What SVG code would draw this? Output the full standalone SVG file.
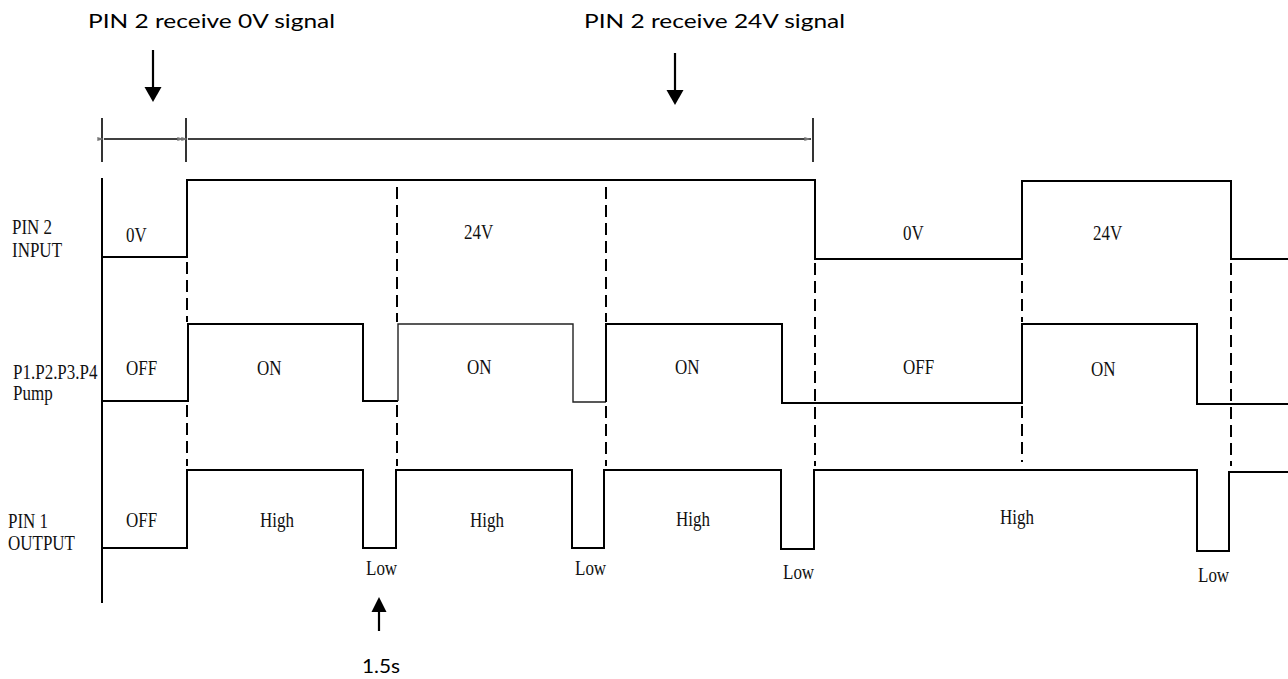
<svg xmlns="http://www.w3.org/2000/svg" width="1288" height="679" viewBox="0 0 1288 679">
<style>
.sig{fill:none;stroke:#000;stroke-width:2;stroke-linejoin:miter}
.thin{fill:none;stroke:#222;stroke-width:1.4}
.dash{fill:none;stroke:#000;stroke-width:2;stroke-dasharray:12 6}
.lbl{font-family:"Liberation Serif","Times New Roman",serif;font-size:17px;fill:#111}
.cap{font-family:"Lato","Open Sans",sans-serif;font-size:20px;fill:#000}
.dim{stroke:#000;stroke-width:1.6;fill:none}
</style>
<defs>
<marker id="tiny" viewBox="0 0 10 6" refX="10" refY="3" markerWidth="7" markerHeight="4" markerUnits="userSpaceOnUse" orient="auto">
<path d="M0,0 L10,3 L0,6 z" fill="#777"/>
</marker>
</defs>
<rect width="1288" height="679" fill="#fff"/>

<g id="captions">
<text class="cap" x="88" y="28" textLength="247" lengthAdjust="spacingAndGlyphs">PIN 2 receive 0V signal</text>
<text class="cap" x="584" y="28" textLength="261" lengthAdjust="spacingAndGlyphs">PIN 2 receive 24V signal</text>
<text class="cap" x="362" y="673" textLength="38" lengthAdjust="spacingAndGlyphs">1.5s</text>
</g>

<g id="connectors">
<line x1="153" y1="50" x2="153" y2="88" stroke="#000" stroke-width="2.2"/>
<path d="M144.5,87 L161.5,87 L153,102 z" fill="#000"/>
<line x1="675" y1="53" x2="675" y2="91" stroke="#000" stroke-width="2.2"/>
<path d="M666.5,90 L683.5,90 L675,105 z" fill="#000"/>
<line x1="379" y1="631" x2="379" y2="610" stroke="#000" stroke-width="2.2"/>
<path d="M371.5,612 L386.5,612 L379,597 z" fill="#000"/>
<line class="dim" x1="102" y1="118" x2="102" y2="162"/>
<line class="dim" x1="186" y1="118" x2="186" y2="162"/>
<line class="dim" x1="813" y1="118" x2="813" y2="162"/>
<line class="dim" x1="104" y1="139" x2="184" y2="139" marker-start="url(#tiny)" marker-end="url(#tiny)"/>
<line class="dim" x1="188" y1="139" x2="811" y2="139" marker-start="url(#tiny)" marker-end="url(#tiny)"/>
</g>

<g id="axis">
<line x1="102" y1="178" x2="102" y2="603" stroke="#000" stroke-width="2"/>
</g>

<g id="dashes">
<path class="dash" d="M187,262 V322 M187,405 V466"/>
<path class="dash" d="M397,187 V322 M397,405 V466"/>
<path class="dash" d="M606,187 V322 M606,406 V466"/>
<path class="dash" d="M815,263 V466"/>
<path class="dash" d="M1022,263 V322 M1022,406 V462"/>
<path class="dash" d="M1231,263 V466"/>
</g>

<g id="pin2-input">
<path class="sig" d="M102,257 H187 V180 H815 V259 H1022 V181 H1231 V259 H1288"/>
<text class="lbl" transform="translate(12 234) scale(1 1.18)">PIN 2</text>
<text class="lbl" transform="translate(12 257) scale(1 1.18)">INPUT</text>
<text class="lbl" transform="translate(126 242) scale(1 1.18)">0V</text>
<text class="lbl" transform="translate(464 239) scale(1 1.18)">24V</text>
<text class="lbl" transform="translate(903 240) scale(1 1.18)">0V</text>
<text class="lbl" transform="translate(1093 240) scale(1 1.18)">24V</text>
</g>

<g id="pump">
<path class="sig" d="M102,401 H188 V324 H363 V401 H398"/>
<path class="thin" d="M398,401 V324 H573 V402 H606"/>
<path class="sig" d="M606,402 V324 H782 V403 H1022 V324 H1197 V404 H1288"/>
<text class="lbl" transform="translate(13 379) scale(1 1.18)">P1.P2.P3.P4</text>
<text class="lbl" transform="translate(13 400) scale(1 1.18)">Pump</text>
<text class="lbl" transform="translate(126 375) scale(1 1.18)">OFF</text>
<text class="lbl" transform="translate(257 375) scale(1 1.18)">ON</text>
<text class="lbl" transform="translate(467 374) scale(1 1.18)">ON</text>
<text class="lbl" transform="translate(675 374) scale(1 1.18)">ON</text>
<text class="lbl" transform="translate(903 374) scale(1 1.18)">OFF</text>
<text class="lbl" transform="translate(1091 376) scale(1 1.18)">ON</text>
</g>

<g id="pin1-output">
<path class="sig" d="M102,548 H187 V470 H363 V548 H396 V470 H572 V548 H604 V470 H781 V549 H814 V470 H1197 V551 H1229 V472 H1288"/>
<text class="lbl" transform="translate(8 528) scale(1 1.18)">PIN 1</text>
<text class="lbl" transform="translate(8 550) scale(1 1.18)">OUTPUT</text>
<text class="lbl" transform="translate(126 527) scale(1 1.18)">OFF</text>
<text class="lbl" transform="translate(260 527) scale(1 1.18)">High</text>
<text class="lbl" transform="translate(470 527) scale(1 1.18)">High</text>
<text class="lbl" transform="translate(676 526) scale(1 1.18)">High</text>
<text class="lbl" transform="translate(1000 524) scale(1 1.18)">High</text>
<text class="lbl" transform="translate(366 575) scale(1 1.18)">Low</text>
<text class="lbl" transform="translate(575 575) scale(1 1.18)">Low</text>
<text class="lbl" transform="translate(783 579) scale(1 1.18)">Low</text>
<text class="lbl" transform="translate(1198 582) scale(1 1.18)">Low</text>
</g>
</svg>
